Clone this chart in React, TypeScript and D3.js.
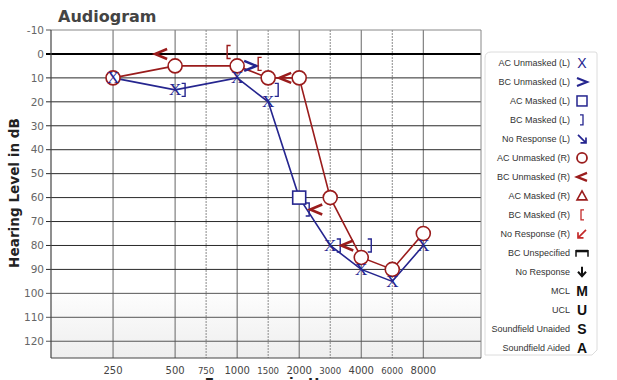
import React from "react";
import * as d3 from "d3";

const freqs = [250, 500, 750, 1000, 1500, 2000, 3000, 4000, 6000, 8000];
const freqLabels = ["250", "500", "750", "1000", "1500", "2000", "3000", "4000", "6000", "8000"];
const dbTicks = [-10, 0, 10, 20, 30, 40, 50, 60, 70, 80, 90, 100, 110, 120];

// Left ear air conduction (line), with masking flag
const leftAirFreqs = [250, 500, 1000, 1500, 2000, 3000, 4000, 6000, 8000];
const leftAirDb = [10, 15, 10, 20, 60, 80, 90, 95, 80];
const leftAirMasked = [false, false, false, false, true, false, false, false, false];

// Right ear air conduction (line)
const rightAirFreqs = [250, 500, 1000, 1500, 2000, 3000, 4000, 6000, 8000];
const rightAirDb = [10, 5, 5, 10, 10, 60, 85, 90, 75];

// Bone conduction
const leftBCUnmaskedFreqs = [1000];
const leftBCUnmaskedDb = [5];
const leftBCMaskedFreqs = [500, 1500, 2000, 3000, 4000];
const leftBCMaskedDb = [15, 15, 65, 80, 80];
const rightBCUnmaskedFreqs = [500, 2000, 3000, 4000];
const rightBCUnmaskedDb = [0, 10, 65, 80];
const rightBCMaskedFreqs = [1000, 1500];
const rightBCMaskedDb = [0, 5];

const legendLabels = [
  "AC Unmasked (L)", "BC Unmasked (L)", "AC Masked (L)", "BC Masked (L)", "No Response (L)",
  "AC Unmasked (R)", "BC Unmasked (R)", "AC Masked (R)", "BC Masked (R)", "No Response (R)",
  "BC Unspecified", "No Response", "MCL", "UCL", "Soundfield Unaided", "Soundfield Aided",
];

const BLUE = "#25258f";
const RED = "#9a1c1c";
const LRED = "#c42a2a";

const W = 617, H = 380;
const L = 51, R = 481, T = 30, B = 358;

function freqIndex(f: number) {
  const l = Math.log2(f / 250);
  return Math.abs(l - Math.round(l)) < 1e-9 ? Math.round(l) : Math.floor(l) + 0.5;
}

const x = d3.scaleLinear().domain([-1, 5.93]).range([L, R]);
const y = d3.scaleLinear().domain([-10, 127]).range([T, B]);
const fx = (f: number) => x(freqIndex(f));

const lineGen = d3.line<[number, number]>().x((d) => fx(d[0])).y((d) => y(d[1]));

function Bracket({ cx, cy, color, dir }: { cx: number; cy: number; color: string; dir: 1 | -1 }) {
  // dir 1 => "]" , dir -1 => "["
  const h = 6.5, s = 3.5;
  const d = `M${cx - dir * s},${cy - h} H${cx} V${cy + h} H${cx - dir * s}`;
  return <path d={d} fill="none" stroke={color} strokeWidth={1.4} />;
}

function Chevron({ cx, cy, color, dir, w = 6, h = 5, sw = 2.6 }: { cx: number; cy: number; color: string; dir: 1 | -1; w?: number; h?: number; sw?: number }) {
  // dir 1 => ">" , dir -1 => "<"
  const d = `M${cx - dir * w},${cy - h} L${cx + dir * w},${cy} L${cx - dir * w},${cy + h}`;
  return <path d={d} fill="none" stroke={color} strokeWidth={sw} strokeLinejoin="miter" />;
}

function XMark({ cx, cy }: { cx: number; cy: number }) {
  return (
    <text x={cx} y={cy + 5.6} textAnchor="middle" fontFamily="'Liberation Serif', serif" fontSize={17} fill={BLUE}>
      X
    </text>
  );
}

export default function App() {
  const hLines = dbTicks;
  const leftPts = leftAirFreqs.map((f, i) => [f, leftAirDb[i]] as [number, number]);
  const rightPts = rightAirFreqs.map((f, i) => [f, rightAirDb[i]] as [number, number]);
  const legY = (i: number) => 63 + i * 18.98;
  const LX = 582;

  return (
    <svg width={W} height={H} style={{ position: "absolute", left: 0, top: 0, background: "#fff" }}>
      <defs>
        <linearGradient id="gfade" x1="0" y1="0" x2="0" y2="1">
          <stop offset="0" stopColor="#fdfdfd" />
          <stop offset="1" stopColor="#eeeeee" />
        </linearGradient>
      </defs>
      <rect x={0} y={0} width={W} height={H} fill="#fff" />
      <text x={58} y={22} fontFamily="'DejaVu Sans', sans-serif" fontWeight="bold" fontSize={16} fill="#444">
        Audiogram
      </text>

      {/* shaded region */}
      <rect x={L} y={y(100)} width={R - L} height={B - y(100)} fill="url(#gfade)" />

      {/* vertical grid */}
      {freqs.map((f, i) => {
        const half = !Number.isInteger(freqIndex(f));
        return (
          <line key={"v" + i} x1={fx(f)} x2={fx(f)} y1={T} y2={B}
            stroke={half ? "#8a8a8a" : "#666"} strokeWidth={1}
            strokeDasharray={half ? "2,1" : undefined} />
        );
      })}

      {/* horizontal grid */}
      {hLines.map((v) => {
        if (v === -10) return <line key={"h" + v} x1={L} x2={R} y1={y(v)} y2={y(v)} stroke="#888" strokeWidth={1} />;
        if (v === 0) return <line key={"h" + v} x1={L - 5} x2={R} y1={y(v)} y2={y(v)} stroke="#000" strokeWidth={2} />;
        return (
          <line key={"h" + v} x1={L - 5} x2={R} y1={y(v)} y2={y(v)}
            stroke={v >= 100 ? "#555" : "#2a2a2a"} strokeWidth={1} />
        );
      })}
      <line x1={L - 5} x2={L} y1={y(-10)} y2={y(-10)} stroke="#555" />
      {/* border */}
      <line x1={L} x2={L} y1={T} y2={B} stroke="#444" strokeWidth={1.2} />
      <line x1={R} x2={R} y1={T} y2={B} stroke="#888" strokeWidth={1} />
      <line x1={L} x2={R} y1={B} y2={B} stroke="#444" strokeWidth={1.2} />

      {/* y tick labels */}
      {dbTicks.map((v) => (
        <text key={"yl" + v} x={44} y={y(v)} dy="0.36em" textAnchor="end"
          fontFamily="'DejaVu Sans', sans-serif" fontSize={10.5} fill="#666">
          {v}
        </text>
      ))}
      {/* x tick labels */}
      {freqs.map((f, i) => {
        const half = !Number.isInteger(freqIndex(f));
        return (
          <text key={"xl" + i} x={fx(f)} y={374} textAnchor="middle"
            fontFamily="'DejaVu Sans', sans-serif" fontSize={half ? 8.6 : 10} fill="#444">
            {freqLabels[i]}
          </text>
        );
      })}

      <text transform={`translate(18.5,193) rotate(-90)`} textAnchor="middle"
        fontFamily="'DejaVu Sans', sans-serif" fontWeight="bold" fontSize={13.6} fill="#222">
        Hearing Level in dB
      </text>
      <text x={(L + R) / 2} y={388} textAnchor="middle"
        fontFamily="'DejaVu Sans', sans-serif" fontWeight="bold" fontSize={13.6} fill="#222">
        Frequency in Hz
      </text>

      {/* lines */}
      <path d={lineGen(leftPts) || ""} fill="none" stroke={BLUE} strokeWidth={1.6} />
      <path d={lineGen(rightPts) || ""} fill="none" stroke={RED} strokeWidth={1.6} />

      {/* right AC circles */}
      {rightPts.map((p, i) => (
        <circle key={"rc" + i} cx={fx(p[0])} cy={y(p[1])} r={7} fill="#fff" stroke={RED} strokeWidth={1.6} />
      ))}
      {/* left AC */}
      {leftPts.map((p, i) =>
        leftAirMasked[i] ? (
          <rect key={"lm" + i} x={fx(p[0]) - 6.5} y={y(p[1]) - 6.5} width={13} height={13} fill="#fff" stroke={BLUE} strokeWidth={1.6} />
        ) : (
          <XMark key={"lx" + i} cx={fx(p[0])} cy={y(p[1])} />
        )
      )}

      {/* bone conduction */}
      {leftBCUnmaskedFreqs.map((f, i) => (
        <Chevron key={"lbu" + i} cx={fx(f) + 13} cy={y(leftBCUnmaskedDb[i])} color={BLUE} dir={1} />
      ))}
      {leftBCMaskedFreqs.map((f, i) => (
        <Bracket key={"lbm" + i} cx={fx(f) + 10} cy={y(leftBCMaskedDb[i])} color={BLUE} dir={1} />
      ))}
      {rightBCUnmaskedFreqs.map((f, i) => (
        <Chevron key={"rbu" + i} cx={fx(f) - 14} cy={y(rightBCUnmaskedDb[i])} color={RED} dir={-1} />
      ))}
      {rightBCMaskedFreqs.map((f, i) => (
        <Bracket key={"rbm" + i} cx={fx(f) - 10} cy={y(rightBCMaskedDb[i]) - 2} color={RED} dir={-1} />
      ))}

      {/* legend */}
      <path d="M491,52 H595 Q597,52 597,54 V350 L592,355 H485 V58 Q485,52 491,52 Z" fill="#fff" stroke="#dcdcdc" strokeWidth={1} />
      {legendLabels.map((lab, i) => (
        <text key={"lg" + i} x={570} y={legY(i)} dy="0.35em" textAnchor="end"
          fontFamily="'Liberation Sans', Arial, sans-serif" fontSize={9} fill="#333">
          {lab}
        </text>
      ))}
      <text x={LX} y={legY(0) + 5} textAnchor="middle" fontFamily="'Liberation Sans', sans-serif" fontSize={14} fill={BLUE}>X</text>
      <Chevron cx={LX} cy={legY(1)} color={BLUE} dir={1} w={5} h={4} sw={2.2} />
      <rect x={LX - 5} y={legY(2) - 5} width={10} height={10} fill="none" stroke={BLUE} strokeWidth={1.5} />
      <path d={`M${LX - 2},${legY(3) - 5} H${LX + 1} V${legY(3) + 5} H${LX - 2}`} fill="none" stroke={BLUE} strokeWidth={1.3} />
      <path d={`M${LX - 4},${legY(4) - 4} L${LX + 4},${legY(4) + 4} M${LX + 4},${legY(4) - 1.5} V${legY(4) + 4} H${LX - 1.5}`} fill="none" stroke={BLUE} strokeWidth={1.7} />
      <circle cx={LX} cy={legY(5)} r={5} fill="none" stroke={RED} strokeWidth={1.8} />
      <Chevron cx={LX} cy={legY(6)} color={RED} dir={-1} w={5} h={4} sw={2.2} />
      <path d={`M${LX},${legY(7) - 5} L${LX + 5},${legY(7) + 4} L${LX - 5},${legY(7) + 4} Z`} fill="none" stroke={RED} strokeWidth={1.6} />
      <path d={`M${LX + 2},${legY(8) - 5} H${LX - 1} V${legY(8) + 5} H${LX + 2}`} fill="none" stroke={LRED} strokeWidth={1.3} />
      <path d={`M${LX + 4},${legY(9) - 4} L${LX - 4},${legY(9) + 4} M${LX - 4},${legY(9) - 1.5} V${legY(9) + 4} H${LX + 1.5}`} fill="none" stroke={LRED} strokeWidth={1.7} />
      <path d={`M${LX - 6},${legY(10) + 4} V${legY(10) - 2} H${LX + 6} V${legY(10) + 4}`} fill="none" stroke="#111" strokeWidth={1.5} />
      <rect x={LX - 6} y={legY(10) - 3} width={12} height={2.5} fill="#111" />
      <path d={`M${LX},${legY(11) - 5} V${legY(11) + 4} M${LX - 4},${legY(11)} L${LX},${legY(11) + 4.5} L${LX + 4},${legY(11)}`} fill="none" stroke="#111" strokeWidth={2} />
      {["M", "U", "S", "A"].map((c, k) => (
        <text key={"ms" + k} x={LX} y={legY(12 + k) + 5} textAnchor="middle"
          fontFamily="'Liberation Sans', Arial, sans-serif" fontWeight="bold" fontSize={14} fill="#111">
          {c}
        </text>
      ))}
    </svg>
  );
}
